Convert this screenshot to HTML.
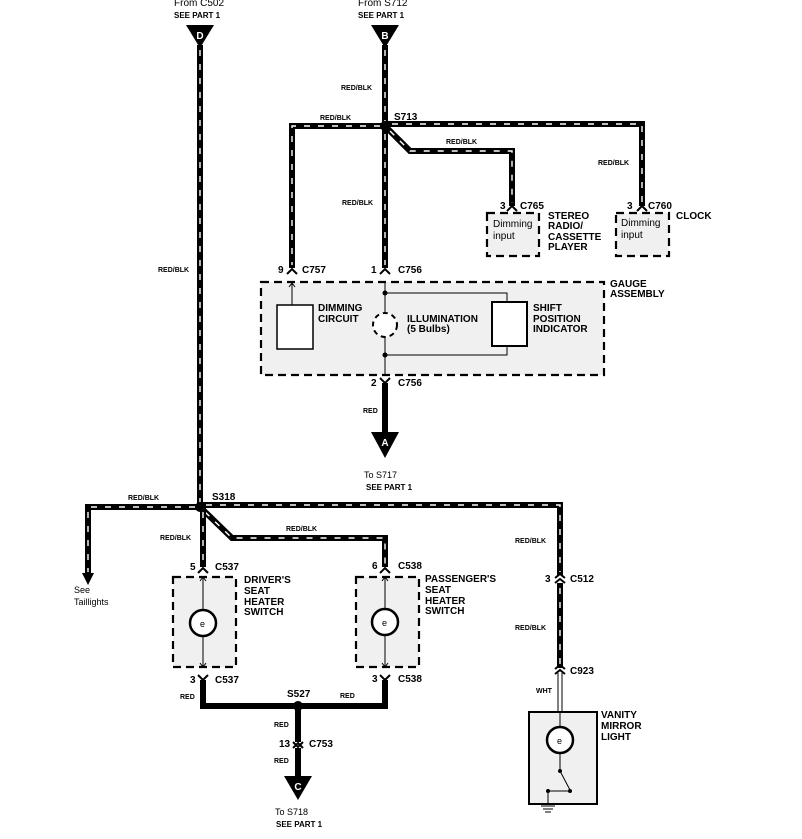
<!DOCTYPE html>
<html><head><style>
body{margin:0;background:#fff}
svg{display:block}
text{font-family:"Liberation Sans",sans-serif;font-weight:bold;fill:#000}
.s{font-size:7px}
.m{font-size:10px}
.n{font-weight:normal}
.w{fill:none;stroke:#000;stroke-width:6}
.d{fill:none;stroke:#fff;stroke-width:1.4;stroke-dasharray:6 8}
.r{fill:none;stroke:#000;stroke-width:6}
.db{fill:#f0f0f0;stroke:#000;stroke-width:2.2;stroke-dasharray:8 5}
.t{fill:none;stroke:#000;stroke-width:1}
</style></head><body>
<svg width="802" height="839" viewBox="0 0 802 839">
<g>
<path d="M200 45 V507" class="w"/><path d="M200 50 V503" class="d"/>
<path d="M385 45 V268" class="w"/><path d="M385 50 V265" class="d"/>
<path d="M385 126 H292 V268" class="w"/><path d="M380 126 H292 V265" class="d"/>
<path d="M385 124 H642 V206" class="w"/><path d="M392 124 H642 V203" class="d"/>
<path d="M385 126 L410 151 H512 V206" class="w"/><path d="M390 131 L410 151 H512 V203" class="d"/>
<path d="M200 507 H88 V575" class="w"/><path d="M195 507 H88 V572" class="d"/>
<path d="M200 505 H560 V575" class="w"/><path d="M206 505 H560 V572" class="d"/>
<path d="M560 583 V668" class="w"/><path d="M560 588 V665" class="d"/>
<path d="M200 507 L232 538 H385 V567" class="w"/><path d="M205 512 L232 538 H385 V564" class="d"/>
<path d="M203 507 V567" class="w"/><path d="M203 512 V564" class="d"/>
</g>
<path d="M385 383 V432" class="r"/>
<path d="M203 680 V706 H385 V680" class="r"/>
<path d="M298 706 V742 M298 748 V776" class="r"/>
<path d="M558 673 V712 M562 673 V712" class="t"/>
<circle cx="385" cy="126" r="5"/><circle cx="200" cy="507" r="5"/><circle cx="298" cy="706" r="5"/>
<polygon points="186,25 214,25 200,48"/><text x="200" y="39" class="m" text-anchor="middle" style="fill:#fff">D</text>
<polygon points="371,25 399,25 385,48"/><text x="385" y="39" class="m" text-anchor="middle" style="fill:#fff">B</text>
<polygon points="371,432 399,432 385,458"/><text x="385" y="446" class="m" text-anchor="middle" style="fill:#fff">A</text>
<polygon points="284,776 312,776 298,800"/><text x="298" y="790" class="m" text-anchor="middle" style="fill:#fff">C</text>
<polygon points="82,573 94,573 88,585"/>
<text x="174" y="6" class="m n">From C502</text><text x="174" y="18" class="s" style="font-size:8px">SEE PART 1</text>
<text x="358" y="6" class="m n">From S712</text><text x="358" y="18" class="s" style="font-size:8px">SEE PART 1</text>
<text x="341" y="90" class="s">RED/BLK</text>
<text x="320" y="120" class="s">RED/BLK</text>
<text x="394" y="120" class="m">S713</text>
<text x="446" y="144" class="s">RED/BLK</text>
<text x="598" y="165" class="s">RED/BLK</text>
<text x="342" y="205" class="s">RED/BLK</text>
<text x="158" y="272" class="s">RED/BLK</text>
<text x="500" y="209" class="m">3</text><text x="520" y="209" class="m">C765</text>
<text x="627" y="209" class="m">3</text><text x="648" y="209" class="m">C760</text><text x="676" y="219" class="m">CLOCK</text>
<rect x="487" y="213" width="52" height="43" class="db"/>
<rect x="616" y="213" width="53" height="43" class="db"/>
<text x="493" y="227" class="m n">Dimming</text><text x="493" y="239" class="m n">input</text>
<text x="621" y="226" class="m n">Dimming</text><text x="621" y="238" class="m n">input</text>
<text x="548" y="219" class="m">STEREO</text><text x="548" y="229" class="m">RADIO/</text><text x="548" y="240" class="m">CASSETTE</text><text x="548" y="250" class="m">PLAYER</text>
<g class="t" style="stroke-width:2">
<path d="M287 274 L292 269 L297 274"/><path d="M380 274 L385 269 L390 274"/>
<path d="M507 211 L512 206 L517 211"/><path d="M637 211 L642 206 L647 211"/>
<path d="M380 378 L385 383 L390 378"/>
<path d="M198 573 L203 568 L208 573"/><path d="M380 573 L385 568 L390 573"/>
<path d="M198 675 L203 680 L208 675"/><path d="M380 675 L385 680 L390 675"/>
<path d="M293 742 L298 747 L303 742 M293 748 L298 743 L303 748"/>
<path d="M555 578 L560 574 L565 578 M555 583 L560 579 L565 583"/>
<path d="M555 669 L560 665 L565 669 M555 674 L560 670 L565 674"/>
</g>
<text x="278" y="273" class="m">9</text><text x="302" y="273" class="m">C757</text>
<text x="371" y="273" class="m">1</text><text x="398" y="273" class="m">C756</text>
<rect x="261" y="282" width="343" height="93" class="db"/>
<text x="610" y="287" class="m">GAUGE</text><text x="610" y="297" class="m">ASSEMBLY</text>
<rect x="277" y="305" width="36" height="44" fill="#fff" stroke="#000" stroke-width="1.5"/>
<path d="M292 305 V283 M289 287 L292 283 L295 287" class="t"/>
<text x="318" y="311" class="m">DIMMING</text><text x="318" y="322" class="m">CIRCUIT</text>
<path d="M385 282 V375 M385 293 H507 V302 M385 355 H507 V346" class="t"/>
<circle cx="385" cy="293" r="2.5"/><circle cx="385" cy="355" r="2.5"/>
<circle cx="385" cy="325" r="12" fill="#fff" stroke="#000" stroke-width="2" stroke-dasharray="5 4"/>
<rect x="492" y="302" width="35" height="44" fill="#fff" stroke="#000" stroke-width="2"/>
<text x="407" y="322" class="m">ILLUMINATION</text><text x="407" y="332" class="m">(5 Bulbs)</text>
<text x="533" y="311" class="m">SHIFT</text><text x="533" y="322" class="m">POSITION</text><text x="533" y="332" class="m">INDICATOR</text>
<text x="371" y="386" class="m">2</text><text x="398" y="386" class="m">C756</text>
<text x="363" y="413" class="s">RED</text>
<text x="364" y="478" class="m n" style="font-size:9px">To S717</text><text x="366" y="490" class="s" style="font-size:8px">SEE PART 1</text>
<text x="128" y="500" class="s">RED/BLK</text>
<text x="212" y="500" class="m">S318</text>
<text x="286" y="531" class="s">RED/BLK</text>
<text x="160" y="540" class="s">RED/BLK</text>
<text x="515" y="543" class="s">RED/BLK</text>
<text x="515" y="630" class="s">RED/BLK</text>
<text x="536" y="693" class="s">WHT</text>
<text x="74" y="593" class="m n" style="font-size:9px">See</text><text x="74" y="605" class="m n" style="font-size:9px">Taillights</text>
<text x="190" y="570" class="m">5</text><text x="215" y="570" class="m">C537</text>
<text x="372" y="569" class="m">6</text><text x="398" y="569" class="m">C538</text>
<text x="545" y="582" class="m">3</text><text x="570" y="582" class="m">C512</text>
<text x="570" y="674" class="m">C923</text>
<rect x="173" y="577" width="63" height="90" class="db"/>
<rect x="356" y="577" width="63" height="90" class="db"/>
<text x="244" y="583" class="m">DRIVER'S</text><text x="244" y="594" class="m">SEAT</text><text x="244" y="605" class="m">HEATER</text><text x="244" y="615" class="m">SWITCH</text>
<text x="425" y="582" class="m">PASSENGER'S</text><text x="425" y="593" class="m">SEAT</text><text x="425" y="604" class="m">HEATER</text><text x="425" y="614" class="m">SWITCH</text>
<g class="t">
<path d="M203 578 V667 M200 581 L203 577 L206 581 M200 663 L203 667 L206 663"/>
<path d="M385 578 V667 M382 581 L385 577 L388 581 M382 663 L385 667 L388 663"/>
</g>
<circle cx="203" cy="623" r="13" fill="#fff" stroke="#000" stroke-width="2.5"/>
<circle cx="385" cy="622" r="13" fill="#fff" stroke="#000" stroke-width="2.5"/>
<text x="200" y="627" class="m n" style="font-size:9px">e</text><text x="382" y="626" class="m n" style="font-size:9px">e</text>
<text x="190" y="683" class="m">3</text><text x="215" y="683" class="m">C537</text>
<text x="372" y="682" class="m">3</text><text x="398" y="682" class="m">C538</text>
<text x="180" y="699" class="s">RED</text><text x="340" y="698" class="s">RED</text>
<text x="287" y="697" class="m">S527</text>
<text x="274" y="727" class="s">RED</text>
<text x="279" y="747" class="m">13</text><text x="309" y="747" class="m">C753</text>
<text x="274" y="763" class="s">RED</text>
<text x="275" y="815" class="m n" style="font-size:9px">To S718</text><text x="276" y="827" class="s" style="font-size:8px">SEE PART 1</text>
<rect x="529" y="712" width="68" height="92" fill="#f0f0f0" stroke="#000" stroke-width="2"/>
<text x="601" y="718" class="m">VANITY</text><text x="601" y="729" class="m">MIRROR</text><text x="601" y="740" class="m">LIGHT</text>
<circle cx="560" cy="740" r="13" fill="#fff" stroke="#000" stroke-width="2.5"/>
<text x="557" y="744" class="m n" style="font-size:9px">e</text>
<path d="M560 712 V727 M560 753 V771 L570 790 M548 791 H568" class="t"/>
<circle cx="560" cy="771" r="2"/><circle cx="570" cy="791" r="2"/><circle cx="548" cy="791" r="2"/>
<path d="M548 791 V805 M541 806 H555 M543 809 H553 M545 812 H551" class="t"/>
</svg>
</body></html>
